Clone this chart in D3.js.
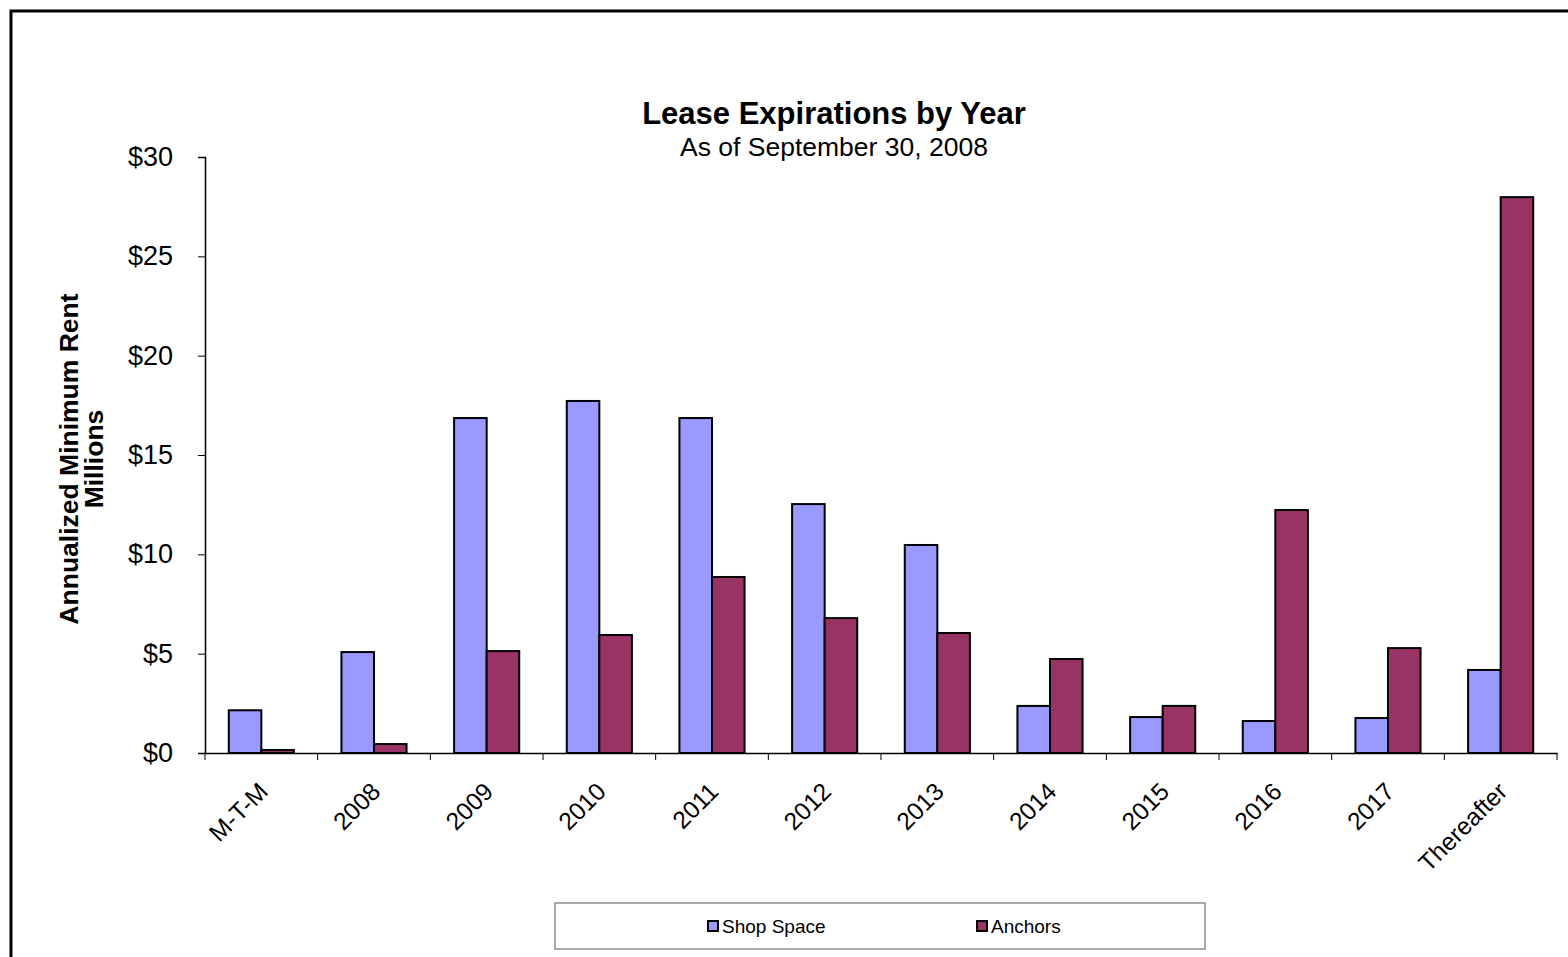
<!DOCTYPE html>
<html>
<head>
<meta charset="utf-8">
<script src="https://cdn.jsdelivr.net/npm/d3@7"></script>
<style>
  body { margin: 0; background: #fff; }
  svg { font-family: "Liberation Sans", Arial, sans-serif; }
</style>
</head>
<body>
<svg width="1568" height="957"></svg>
<script>
'use strict'

const categories = ['M-T-M', '2008', '2009', '2010', '2011', '2012', '2013', '2014', '2015', '2016', '2017', 'Thereafter']
const shopSpace = [2.15, 5.08, 16.86, 17.72, 16.86, 12.53, 10.47, 2.37, 1.81, 1.61, 1.76, 4.18]
const anchors = [0.15, 0.45, 5.13, 5.94, 8.86, 6.79, 6.04, 4.73, 2.37, 12.23, 5.28, 27.98]
const seriesNames = ['Shop Space', 'Anchors']
const seriesColors = ['#9999ff', '#993366']
const yTicks = [0, 5, 10, 15, 20, 25, 30]

const width = 1568
const height = 957
const margin = { top: 157, left: 205, right: 11, bottom: 204 }

const svg = d3.select('svg')

// outer frame
svg.append('rect')
    .attr('x', 11).attr('y', 11)
    .attr('width', width).attr('height', height)
    .attr('fill', 'none').attr('stroke', '#000').attr('stroke-width', 3)

const x = d3.scaleBand()
    .domain(categories)
    .range([margin.left, width - margin.right])

const x1 = d3.scaleBand()
    .domain(seriesNames)
    .range([0, x.bandwidth()])
    .paddingInner(0)
    .paddingOuter(0.73)

const y = d3.scaleLinear()
    .domain([0, 30])
    .range([height - margin.bottom, margin.top])

const rows = categories.map((c, i) => ({ cat: c, values: [shopSpace[i], anchors[i]] }))

const groups = svg.append('g')
    .selectAll('g')
    .data(rows)
    .enter().append('g')
    .attr('transform', d => `translate(${x(d.cat)},0)`)

groups.selectAll('rect')
    .data(d => d.values.map((v, j) => ({ name: seriesNames[j], value: v, color: seriesColors[j] })))
    .enter().append('rect')
    .attr('x', d => x1(d.name))
    .attr('y', d => y(d.value))
    .attr('width', x1.bandwidth())
    .attr('height', d => y(0) - y(d.value))
    .attr('fill', d => d.color)
    .attr('stroke', '#000')
    .attr('stroke-width', 2)

// y axis
const yAxis = svg.append('g')
    .attr('transform', `translate(${margin.left},0)`)
    .call(d3.axisLeft(y).tickValues(yTicks).tickSize(7).tickFormat(d => '$' + d))
yAxis.select('.domain').attr('stroke', '#000').attr('stroke-width', 1.5)
yAxis.selectAll('.tick line').attr('stroke', '#000')
yAxis.selectAll('text')
    .attr('font-size', 27)
    .attr('fill', '#000')
    .attr('x', -32)

// x axis
const xAxis = svg.append('g')
    .attr('transform', `translate(0,${y(0)})`)
    .call(d3.axisBottom(x).tickSize(0).tickFormat(''))
xAxis.select('.domain').attr('stroke', '#000').attr('stroke-width', 1.5)
xAxis.selectAll('.tick').remove()

const bounds = categories.map(c => x(c)).concat([x.range()[1]])
xAxis.selectAll('.sep')
    .data(bounds)
    .enter().append('line')
    .attr('x1', d => d).attr('x2', d => d)
    .attr('y1', 0).attr('y2', 7)
    .attr('stroke', '#000')

xAxis.selectAll('.lbl')
    .data(categories)
    .enter().append('text')
    .attr('transform', d => `translate(${x(d) + x.bandwidth() / 2 + 8},${40}) rotate(-45)`)
    .attr('text-anchor', 'end')
    .attr('font-size', 24.5)
    .attr('fill', '#000')
    .text(d => d)

// titles
svg.append('text')
    .attr('x', 834).attr('y', 124)
    .attr('text-anchor', 'middle')
    .attr('font-size', 31).attr('font-weight', 'bold')
    .text('Lease Expirations by Year')

svg.append('text')
    .attr('x', 834).attr('y', 156)
    .attr('text-anchor', 'middle')
    .attr('font-size', 26.5)
    .text('As of September 30, 2008')

const yTitle = svg.append('text')
    .attr('transform', 'translate(78,459) rotate(-90)')
    .attr('text-anchor', 'middle')
    .attr('font-size', 26.5).attr('font-weight', 'bold')
yTitle.append('tspan').attr('x', 0).attr('dy', 0).text('Annualized Minimum Rent')
yTitle.append('tspan').attr('x', 0).attr('dy', 25).text('Millions')

// legend
const legend = svg.append('g')
legend.append('rect')
    .attr('x', 555).attr('y', 903)
    .attr('width', 650).attr('height', 46)
    .attr('fill', '#fff').attr('stroke', '#555').attr('stroke-width', 1)

const legendX = [708, 977]
const items = legend.selectAll('.item')
    .data(seriesNames)
    .enter().append('g')
    .attr('transform', (d, i) => `translate(${legendX[i]},921)`)
items.append('rect')
    .attr('width', 10).attr('height', 10)
    .attr('fill', (d, i) => seriesColors[i])
    .attr('stroke', '#000').attr('stroke-width', 2)
items.append('text')
    .attr('x', 14).attr('y', 12)
    .attr('font-size', 19)
    .text(d => d)
</script>
</body>
</html>
